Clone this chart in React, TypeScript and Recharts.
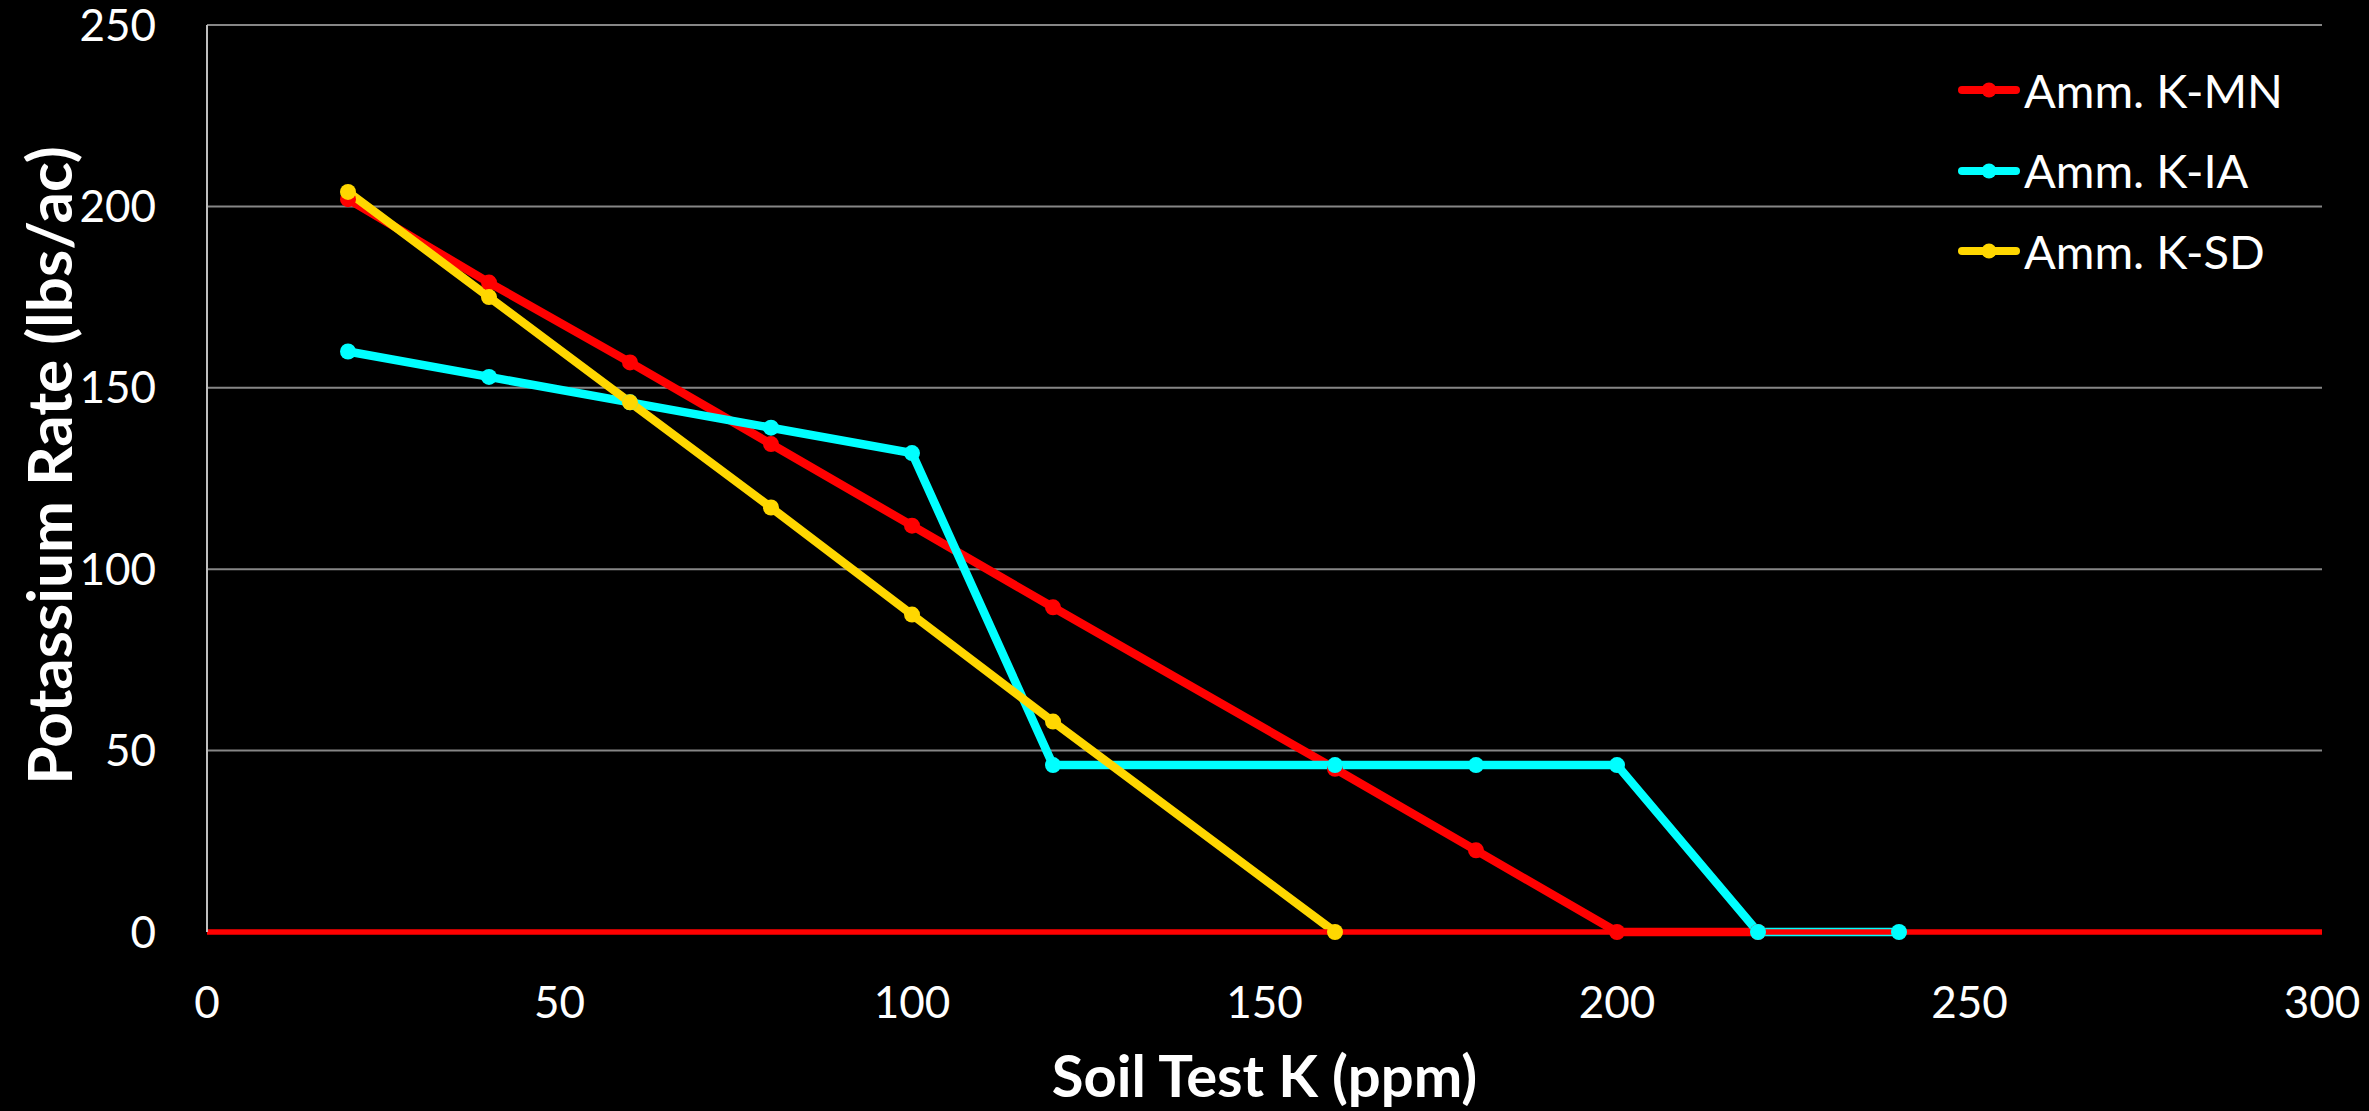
import {
  CartesianGrid,
  Label,
  Legend,
  Line,
  LineChart,
  ReferenceLine,
  XAxis,
  YAxis,
} from "recharts";

// Soil test K (ppm) and recommended potassium rate (lbs/ac) per state guideline
const mnPpm = [20, 40, 60, 80, 100, 120, 160, 180, 200, 220];
const mnRate = [202, 179, 157, 134.5, 112, 89.5, 45, 22.5, 0, 0];

const iaPpm = [20, 40, 60, 80, 100, 120, 160, 180, 200, 220, 240];
const iaRate = [160, 153, 146, 139, 132, 46, 46, 46, 46, 0, 0];

const sdPpm = [20, 40, 60, 80, 100, 120, 160];
const sdRate = [204, 175, 146, 117, 87.5, 58, 0];

const xTicks = [0, 50, 100, 150, 200, 250, 300];
const yTicks = [0, 50, 100, 150, 200, 250];

const toPoints = (ppm: number[], rate: number[]) =>
  ppm.map((k, i) => ({ ppm: k, rate: rate[i] }));

const SERIES = [
  { name: "Amm. K-MN", color: "#ff0000", data: toPoints(mnPpm, mnRate) },
  { name: "Amm. K-IA", color: "#00ffff", data: toPoints(iaPpm, iaRate) },
  { name: "Amm. K-SD", color: "#ffd700", data: toPoints(sdPpm, sdRate) },
];

const FONT = "Lato, 'Open Sans', sans-serif";

const renderLegend = () => (
  <div style={{ fontFamily: FONT, color: "#fff" }}>
    {SERIES.map((s) => (
      <div
        key={s.name}
        style={{ display: "flex", alignItems: "center", height: 80.5 }}
      >
        <svg width={62} height={20} style={{ marginRight: 4 }}>
          <line
            x1={4}
            y1={10}
            x2={58}
            y2={10}
            stroke={s.color}
            strokeWidth={8}
            strokeLinecap="round"
          />
          <circle cx={31} cy={10} r={7.5} fill={s.color} />
        </svg>
        <span style={{ fontSize: 47, lineHeight: "47px" }}>{s.name}</span>
      </div>
    ))}
  </div>
);

const App = () => {
  return (
    <div
      style={{
        position: "fixed",
        left: 0,
        top: 0,
        width: 2369,
        height: 1111,
        background: "#000",
      }}
    >
      <LineChart
        width={2369}
        height={1111}
        margin={{ top: 25, right: 47, left: 0, bottom: 0 }}
      >
        <CartesianGrid vertical={false} stroke="#868686" strokeWidth={2} />
        <XAxis
          type="number"
          dataKey="ppm"
          domain={[0, 300]}
          ticks={xTicks}
          height={179}
          axisLine={{ stroke: "#ff0000", strokeWidth: 5 }}
          tickLine={false}
          tickSize={0}
          tickMargin={55}
          tick={{ fill: "#fff", fontSize: 44, fontFamily: FONT }}
        >
          <Label
            content={({ viewBox }: any) => (
              <text
                x={viewBox.x + viewBox.width / 2}
                y={1074}
                textAnchor="middle"
                dominantBaseline="central"
                fill="#fff"
                fontSize={58}
                fontWeight="bold"
                fontFamily={FONT}
              >
                Soil Test K (ppm)
              </text>
            )}
          />
        </XAxis>
        <YAxis
          type="number"
          domain={[0, 250]}
          ticks={yTicks}
          width={207}
          axisLine={{ stroke: "#bfbfbf", strokeWidth: 2 }}
          tickLine={false}
          tickSize={0}
          tickMargin={51}
          tick={{ fill: "#fff", fontSize: 44, fontFamily: FONT }}
        >
          <Label
            content={({ viewBox }: any) => {
              const cy = viewBox.y + viewBox.height / 2 - 13;
              return (
                <text
                  x={48}
                  y={cy}
                  transform={`rotate(-90, 48, ${cy})`}
                  textAnchor="middle"
                  dominantBaseline="central"
                  fill="#fff"
                  fontSize={62}
                  fontWeight="bold"
                  fontFamily={FONT}
                >
                  Potassium Rate (lbs/ac)
                </text>
              );
            }}
          />
        </YAxis>
        <Legend
          layout="horizontal"
          verticalAlign="middle"
          content={renderLegend}
          wrapperStyle={{ left: 1958, top: 50, width: 400 }}
        />
        {SERIES.map((s) => (
          <Line
            key={s.name}
            name={s.name}
            data={s.data}
            dataKey="rate"
            type="linear"
            stroke={s.color}
            strokeWidth={8.5}
            dot={{ r: 8, fill: s.color, stroke: s.color, strokeWidth: 0 }}
            activeDot={false}
            isAnimationActive={false}
          />
        ))}
        <ReferenceLine y={0} stroke="#ff0000" strokeWidth={5} />
      </LineChart>
    </div>
  );
};

export default App;
